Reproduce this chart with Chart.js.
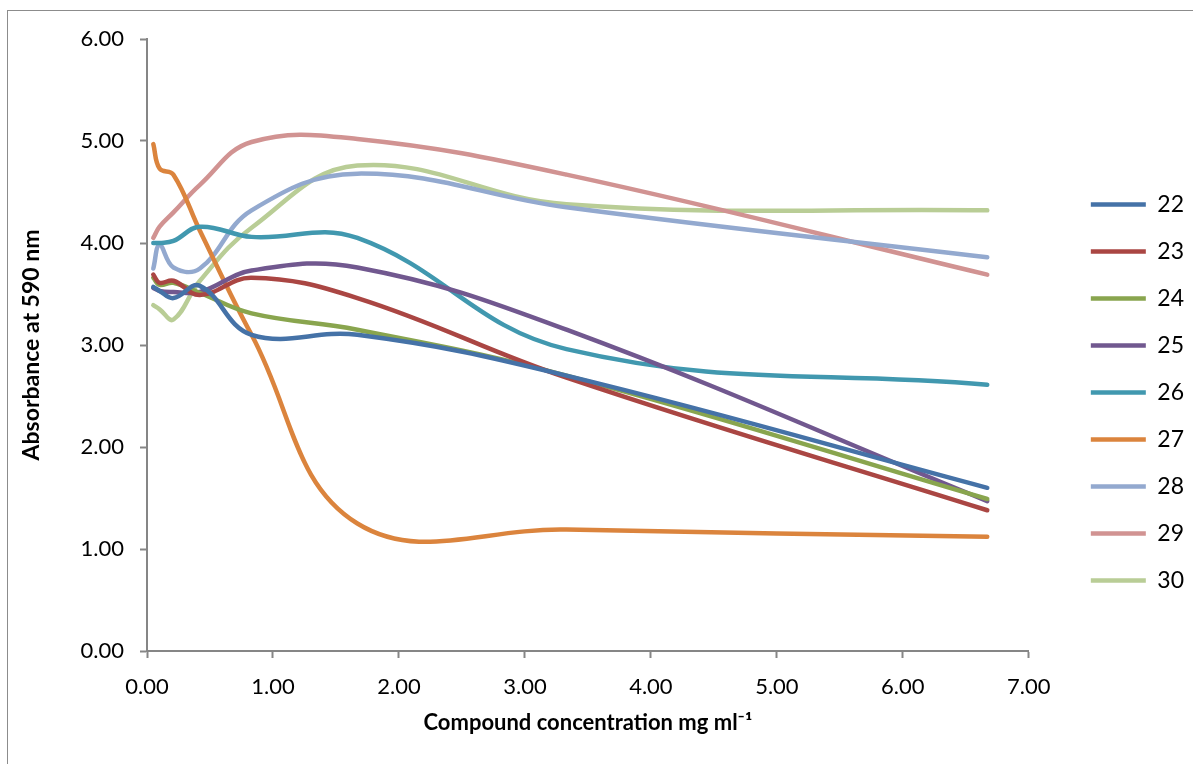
<!DOCTYPE html>
<html>
<head>
<meta charset="utf-8">
<script src="https://cdn.jsdelivr.net/npm/chart.js@4.4.0/dist/chart.umd.min.js"></script>
<style>
  body { margin: 0; background: #fff; }
  #frame { position: absolute; left: 7px; top: 10px; width: 1190px; height: 760px; border: 1.5px solid #8c8c8c; }
  #wrap { position: absolute; left: 0; top: 0; width: 1193px; height: 764px; }
</style>
</head>
<body>
<div id="frame"></div>
<div id="wrap"><canvas id="chart"></canvas></div>
<script>
// concentration (mg/ml) of each dilution
const conc = [0.05, 0.10, 0.21, 0.42, 0.83, 1.67, 3.33, 6.67];

// absorbance at 590 nm, one list per compound
const c22 = [3.57, 3.53, 3.46, 3.58, 3.10, 3.10, 2.70, 1.60];
const c23 = [3.69, 3.61, 3.63, 3.49, 3.66, 3.46, 2.68, 1.38];
const c24 = [3.66, 3.59, 3.61, 3.51, 3.31, 3.15, 2.70, 1.49];
const c25 = [3.56, 3.53, 3.52, 3.52, 3.73, 3.76, 3.15, 1.47];
const c26 = [4.00, 4.00, 4.02, 4.16, 4.06, 4.05, 2.96, 2.61];
const c27 = [4.97, 4.73, 4.67, 4.12, 3.10, 1.25, 1.19, 1.12];
const c28 = [3.75, 3.98, 3.76, 3.75, 4.32, 4.68, 4.35, 3.86];
const c29 = [4.05, 4.16, 4.30, 4.57, 4.99, 5.02, 4.67, 3.69];
const c30 = [3.39, 3.35, 3.25, 3.63, 4.15, 4.76, 4.38, 4.32];

const names = ['22', '23', '24', '25', '26', '27', '28', '29', '30'];
const series = [c22, c23, c24, c25, c26, c27, c28, c29, c30];
const colors = ['#4572A7', '#AA4643', '#89A54E', '#71588F', '#4198AF', '#DB843D', '#93A9CF', '#D19392', '#B9CD96'];

const axisGray = '#868686';
const fontFam = 'Lato, "Open Sans", sans-serif';

const datasets = series.map((vals, i) => ({
  label: names[i],
  data: vals.map((v, j) => ({ x: conc[j], y: v })),
  borderColor: colors[i],
  backgroundColor: colors[i],
  borderWidth: 4.5,
  borderCapStyle: 'round',
  showLine: true,
  pointRadius: 0,
  tension: 0.4
}));

// nudge the legend to the right edge of the frame, like the original
const legendShift = {
  id: 'legendShift',
  afterLayout(chart) {
    const lg = chart.legend;
    lg.left += 38; lg.right += 38;
    lg.top += 5; lg.bottom += 5;
  }
};

new Chart(document.getElementById('chart'), {
  type: 'scatter',
  data: { datasets: datasets },
  plugins: [legendShift],
  options: {
    responsive: true,
    maintainAspectRatio: false,
    animation: false,
    layout: { padding: { top: 39, left: 18, right: 37, bottom: 28 } },
    plugins: {
      tooltip: { enabled: false },
      legend: {
        position: 'right',
        labels: {
          usePointStyle: true,
          pointStyle: 'line',
          pointStyleWidth: 55,
          boxWidth: 55,
          boxHeight: 23,
          padding: 24,
          color: '#000',
          font: { family: fontFam, size: 23 }
        }
      }
    },
    scales: {
      x: {
        type: 'linear',
        min: 0,
        max: 7,
        afterFit: (s) => { s.height = 85; },
        ticks: {
          stepSize: 1,
          padding: 16,
          color: '#000',
          font: { family: fontFam, size: 22 },
          callback: (v) => v.toFixed(2)
        },
        grid: { drawOnChartArea: false, drawTicks: true, tickLength: 7, color: axisGray, tickWidth: 2 },
        border: { color: axisGray, width: 2 },
        title: {
          display: true,
          text: 'Compound concentration mg ml\u207B\u00B9',
          color: '#000',
          font: { family: fontFam, size: 22, weight: 'bold' },
          padding: { top: 8, bottom: 0 }
        }
      },
      y: {
        min: 0,
        max: 6,
        afterFit: (s) => { s.width = 129; },
        ticks: {
          stepSize: 1,
          padding: 16,
          color: '#000',
          font: { family: fontFam, size: 22 },
          callback: (v) => v.toFixed(2)
        },
        grid: { drawOnChartArea: false, drawTicks: true, tickLength: 7, color: axisGray, tickWidth: 2 },
        border: { color: axisGray, width: 2 },
        title: {
          display: true,
          text: 'Absorbance at 590 nm',
          color: '#000',
          font: { family: fontFam, size: 23, weight: 'bold' },
          padding: { top: 0, bottom: 4 }
        }
      }
    }
  }
});
</script>
</body>
</html>
